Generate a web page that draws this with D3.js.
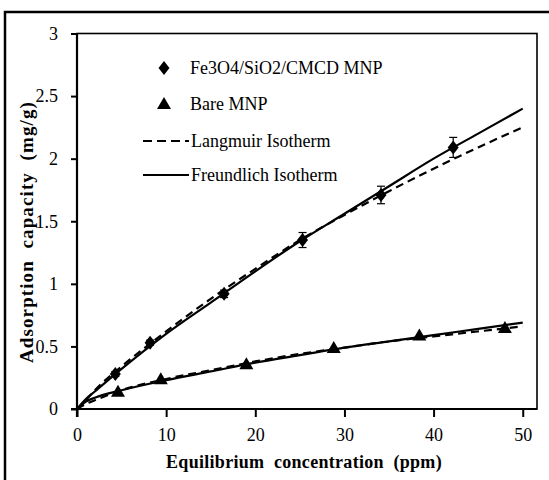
<!DOCTYPE html>
<html>
<head>
<meta charset="utf-8">
<script src="https://cdn.jsdelivr.net/npm/d3@7"></script>
<style>
  body { margin: 0; background: #fff; }
</style>
</head>
<body>
<div id="chart"></div>
<script>
// measured points (concentration in ppm, capacity in mg/g)
const fe3o4Conc = [4.3, 8.2, 16.5, 25.3, 34.1, 42.2];
const fe3o4Cap  = [0.28, 0.53, 0.92, 1.35, 1.71, 2.09];
const fe3o4Err  = [0.02, 0.02, 0.03, 0.06, 0.07, 0.08];

const bareConc = [4.6, 9.4, 19.0, 28.8, 38.4, 48.0];
const bareCap  = [0.13, 0.23, 0.35, 0.48, 0.58, 0.64];

// fitted curves
const fitConc = [0, 1, 2, 5, 10, 15, 20, 25, 30, 35, 40, 45, 50];
const fe3o4Freundlich = [0, 0.08, 0.14, 0.32, 0.60, 0.85, 1.10, 1.34, 1.56, 1.78, 2.00, 2.20, 2.40];
const fe3o4Langmuir   = [0, 0.07, 0.15, 0.34, 0.62, 0.88, 1.12, 1.35, 1.55, 1.74, 1.92, 2.09, 2.25];
const bareFreundlich  = [0, 0.06, 0.09, 0.15, 0.23, 0.30, 0.37, 0.43, 0.49, 0.54, 0.59, 0.64, 0.69];
const bareLangmuir    = [0, 0.04, 0.07, 0.15, 0.24, 0.31, 0.38, 0.44, 0.49, 0.54, 0.58, 0.62, 0.66];

const xTicks = [0, 10, 20, 30, 40, 50];
const yTicks = [0, 0.5, 1, 1.5, 2, 2.5, 3];
const yTickLabels = ['0', '0.5', '1', '1.5', '2', '2.5', '3'];

const legendItems = [
  { label: 'Fe3O4/SiO2/CMCD MNP', kind: 'diamond' },
  { label: 'Bare MNP', kind: 'triangle' },
  { label: 'Langmuir Isotherm', kind: 'dash' },
  { label: 'Freundlich Isotherm', kind: 'solid' }
];

const FONT = 'Liberation Serif';

function getConfig() {
  const svgWidth = 549, svgHeight = 480;
  const plot = { left: 77, top: 33.5, right: 537, bottom: 409 };
  const x = d3.scaleLinear().domain([0, 51.6]).range([plot.left, plot.right]);
  const y = d3.scaleLinear().domain([0, 3]).range([plot.bottom, plot.top]);
  return { svgWidth, svgHeight, plot, x, y };
}

// serif text helper
function serif(sel, size, bold) {
  return sel
    .attr('font-family', FONT)
    .style('font-family', '"' + FONT + '"')
    .style('font-size', size + 'px')
    .style('font-weight', bold ? 'bold' : 'normal');
}

function drawChart() {
  const { svgWidth, svgHeight, plot, x, y } = getConfig();

  const svg = d3.select('#chart')
    .append('svg')
    .attr('width', svgWidth)
    .attr('height', svgHeight);

  // outer frame
  svg.append('rect')
    .attr('x', 5).attr('y', 12)
    .attr('width', 580).attr('height', 500)
    .attr('fill', 'none')
    .attr('stroke', '#000')
    .attr('stroke-width', 2.5);

  // plot area border (top / right)
  svg.append('rect')
    .attr('x', plot.left).attr('y', plot.top)
    .attr('width', plot.right - plot.left)
    .attr('height', plot.bottom - plot.top)
    .attr('fill', 'none')
    .attr('stroke', '#000')
    .attr('stroke-width', 1.6);

  // axes
  const xAxis = d3.axisBottom(x).tickValues(xTicks).tickSize(8).tickSizeOuter(0).tickFormat(d3.format('d'));
  const yAxis = d3.axisLeft(y).tickValues(yTicks).tickSize(6).tickSizeOuter(0)
    .tickFormat((d, i) => yTickLabels[i]);

  const gx = svg.append('g')
    .attr('transform', 'translate(0,' + plot.bottom + ')')
    .call(xAxis)
    .attr('font-family', FONT)
    .attr('font-size', 18);
  gx.select('.domain').attr('stroke-width', 2.2).attr('d', 'M' + (plot.left - 6) + ',0H' + plot.right);
  gx.selectAll('.tick line').attr('stroke-width', 2);
  serif(gx.selectAll('.tick text'), 18)
    .attr('y', 19)
    .attr('dy', '0.71em');

  const gy = svg.append('g')
    .attr('transform', 'translate(' + plot.left + ',0)')
    .call(yAxis)
    .attr('font-family', FONT)
    .attr('font-size', 18);
  gy.select('.domain').attr('stroke-width', 2.2).attr('d', 'M0,' + plot.top + 'V' + (plot.bottom + 8));
  gy.selectAll('.tick line').attr('stroke-width', 2);
  serif(gy.selectAll('.tick text'), 18)
    .attr('x', -19);

  // axis titles
  serif(svg.append('text'), 18, true)
    .attr('x', 304).attr('y', 468)
    .attr('text-anchor', 'middle')
    .attr('xml:space', 'preserve')
    .style('white-space', 'pre')
    .style('letter-spacing', '0.3px')
    .text('Equilibrium  concentration  (ppm)');

  serif(svg.append('text'), 19, true)
    .attr('transform', 'translate(33,232) rotate(-90)')
    .attr('text-anchor', 'middle')
    .attr('xml:space', 'preserve')
    .style('white-space', 'pre')
    .style('letter-spacing', '1.1px')
    .text('Adsorption  capacity  (mg/g)');

  // fitted lines
  const fitLine = vals => d3.line()
    .curve(d3.curveMonotoneX)
    .x((d, i) => x(fitConc[i]))
    .y((d, i) => y(vals[i]))(vals);

  [
    { vals: fe3o4Langmuir, dash: '8,5' },
    { vals: bareLangmuir, dash: '8,5' },
    { vals: fe3o4Freundlich, dash: null },
    { vals: bareFreundlich, dash: null }
  ].forEach(s => {
    svg.append('path')
      .attr('d', fitLine(s.vals))
      .attr('fill', 'none')
      .attr('stroke', '#000')
      .attr('stroke-width', 2.2)
      .attr('stroke-dasharray', s.dash);
  });

  // error bars for Fe3O4
  const errG = svg.append('g').attr('stroke', '#000').attr('stroke-width', 1.2);
  fe3o4Conc.forEach((c, i) => {
    const cx = x(c), lo = y(fe3o4Cap[i] - fe3o4Err[i]), hi = y(fe3o4Cap[i] + fe3o4Err[i]);
    errG.append('line').attr('x1', cx).attr('x2', cx).attr('y1', lo).attr('y2', hi);
    errG.append('line').attr('x1', cx - 4).attr('x2', cx + 4).attr('y1', lo).attr('y2', lo);
    errG.append('line').attr('x1', cx - 4).attr('x2', cx + 4).attr('y1', hi).attr('y2', hi);
  });

  const diamond = 'M0,-7L5.5,0L0,7L-5.5,0Z';
  const triangle = 'M0,-7L7,5L-7,5Z';

  svg.append('g')
    .selectAll('path')
    .data(fe3o4Conc)
    .enter()
    .append('path')
    .attr('d', diamond)
    .attr('transform', (d, i) => 'translate(' + x(d) + ',' + y(fe3o4Cap[i]) + ')')
    .attr('fill', '#000');

  svg.append('g')
    .selectAll('path')
    .data(bareConc)
    .enter()
    .append('path')
    .attr('d', triangle)
    .attr('transform', (d, i) => 'translate(' + x(d) + ',' + (y(bareCap[i]) - 1) + ')')
    .attr('fill', '#000');

  // legend
  const rowY = [68, 104, 141, 175];
  const legend = svg.append('g');
  legendItems.forEach((item, i) => {
    const ly = rowY[i];
    if (item.kind === 'diamond') {
      legend.append('path').attr('d', diamond).attr('transform', 'translate(164,' + ly + ')').attr('fill', '#000');
    } else if (item.kind === 'triangle') {
      legend.append('path').attr('d', triangle).attr('transform', 'translate(164,' + ly + ')').attr('fill', '#000');
    } else {
      legend.append('line')
        .attr('x1', 143).attr('x2', 189)
        .attr('y1', ly).attr('y2', ly)
        .attr('stroke', '#000')
        .attr('stroke-width', 2.2)
        .attr('stroke-dasharray', item.kind === 'dash' ? '9,5' : null);
    }
    serif(legend.append('text'), 18)
      .attr('x', item.kind === 'diamond' || item.kind === 'triangle' ? 190 : 191)
      .attr('y', ly + 6)
      .text(item.label);
  });
}

drawChart();
</script>
</body>
</html>
